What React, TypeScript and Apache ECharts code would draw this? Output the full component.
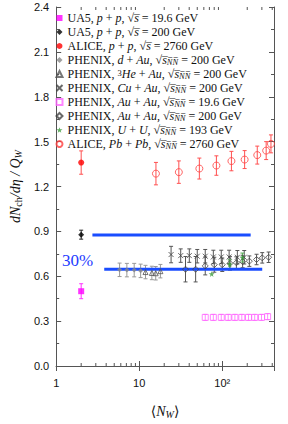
import React, { useEffect, useRef } from "react";
import * as echarts from "echarts";

// ---- data ----
const ua5_19_x = [2];
const ua5_19_y = [0.5];
const ua5_19_e = [0.05];

const ua5_200_x = [2];
const ua5_200_y = [0.878];
const ua5_200_e = [0.03];

const alicePP_x = [2];
const alicePP_y = [1.36];
const alicePP_e = [0.078];

const dAu_x = [5.8, 7.1, 8.7, 10.4];
const dAu_y = [0.643, 0.641, 0.641, 0.636];
const dAu_e = [0.045, 0.045, 0.045, 0.045];

const heAu_x = [11.9, 14.2, 15.8, 18.0];
const heAu_y = [0.628, 0.622, 0.62, 0.634];
const heAu_e = [0.045, 0.045, 0.045, 0.045];

const cuAu_x = [24.2, 31.6, 40.1, 50.0, 62.4, 78.1, 97.3, 121, 152, 184];
const cuAu_y = [0.745, 0.738, 0.738, 0.734, 0.734, 0.729, 0.729, 0.729, 0.727, 0.727];
const cuAu_e = [0.055, 0.045, 0.045, 0.045, 0.045, 0.045, 0.045, 0.045, 0.045, 0.045];

const auAu19_x = [62.4, 78.1, 97.3, 118, 142, 172, 207, 246, 297, 352];
const auAu19_y = [0.325, 0.325, 0.325, 0.325, 0.325, 0.325, 0.325, 0.325, 0.325, 0.33];
const auAu19_e = [0.02, 0.02, 0.02, 0.02, 0.02, 0.02, 0.02, 0.02, 0.02, 0.02];

const auAu200_x = [36.1, 47.8, 62.4, 80.2, 100, 124, 148, 176, 212, 259, 303, 362];
const auAu200_y = [0.647, 0.647, 0.669, 0.677, 0.677, 0.686, 0.69, 0.697, 0.701, 0.712, 0.723, 0.727];
const auAu200_e = [0.085, 0.085, 0.06, 0.05, 0.045, 0.045, 0.04, 0.04, 0.035, 0.035, 0.035, 0.035];

const uu_x = [74.6, 123, 175];
const uu_y = [0.615, 0.68, 0.725];
const uu_e = [0, 0.03, 0.03];

const pbPb_x = [15.9, 30, 53, 85, 129, 186, 264, 338, 386];
const pbPb_y = [1.286, 1.296, 1.32, 1.34, 1.37, 1.38, 1.41, 1.44, 1.485];
const pbPb_e = [0.075, 0.075, 0.07, 0.065, 0.065, 0.06, 0.06, 0.06, 0.06];

const line30a_x = [2.73, 220];
const line30a_y = [0.875, 0.875];
const line30b_x = [3.79, 303];
const line30b_y = [0.647, 0.647];

const xMinorTicks = [2, 3, 4, 5, 6, 7, 8, 9, 20, 30, 40, 50, 60, 70, 80, 90, 200, 300, 400];
const yTickStep = 0.3;

const names = [
  "UA5, p+p, 19.6",
  "UA5, p+p, 200",
  "ALICE, p+p, 2760",
  "PHENIX, d+Au, 200",
  "PHENIX, 3He+Au, 200",
  "PHENIX, Cu+Au, 200",
  "PHENIX, Au+Au, 19.6",
  "PHENIX, Au+Au, 200",
  "PHENIX, U+U, 193",
  "ALICE, Pb+Pb, 2760",
];

const OL = "\u0305";
const sq = `{n|, √}{i|s${OL}}`;
const sqNN = `{n|, √}{i|s${OL}}{sub|N${OL}N${OL}}`;
const legendRich: Record<string, string> = {
  [names[0]]: `{n|UA5, }{i|p}{n| + }{i|p}${sq}{n| = 19.6 GeV}`,
  [names[1]]: `{n|UA5, }{i|p}{n| + }{i|p}${sq}{n| = 200 GeV}`,
  [names[2]]: `{n|ALICE, }{i|p}{n| + }{i|p}${sq}{n| = 2760 GeV}`,
  [names[3]]: `{n|PHENIX, }{i|d}{n| + }{i|Au}${sqNN}{n| = 200 GeV}`,
  [names[4]]: `{n|PHENIX, }{sup|3}{i|He}{n| + }{i|Au}${sqNN}{n| = 200 GeV}`,
  [names[5]]: `{n|PHENIX, }{i|Cu}{n| + }{i|Au}${sqNN}{n| = 200 GeV}`,
  [names[6]]: `{n|PHENIX, }{i|Au}{n| + }{i|Au}${sqNN}{n| = 19.6 GeV}`,
  [names[7]]: `{n|PHENIX, }{i|Au}{n| + }{i|Au}${sqNN}{n| = 200 GeV}`,
  [names[8]]: `{n|PHENIX, }{i|U}{n| + }{i|U}${sqNN}{n| = 193 GeV}`,
  [names[9]]: `{n|ALICE, }{i|Pb}{n| + }{i|Pb}${sqNN}{n| = 2760 GeV}`,
};

const SERIF = "'Liberation Serif', 'DejaVu Serif', serif";
const SANS = "'Liberation Sans', Arial, sans-serif";

const STAR = "path://M50,0 L61,35 L98,35 L68,57 L79,91 L50,70 L21,91 L32,57 L2,35 L39,35 Z";
const CROSS = "path://M0,0 L10,10 M10,0 L0,10";

function errSeries(xs: number[], ys: number[], es: number[], color: string) {
  return {
    type: "custom",
    silent: true,
    z: 1,
    clip: false,
    renderItem: (params: any, api: any) => {
      const x = api.value(0);
      const lo = api.value(1);
      const hi = api.value(2);
      if (hi - lo <= 0) return { type: "group", children: [] };
      const a = api.coord([x, hi]);
      const b = api.coord([x, lo]);
      const st = { stroke: color, lineWidth: 1 };
      return {
        type: "group",
        children: [
          { type: "line", shape: { x1: a[0], y1: a[1], x2: b[0], y2: b[1] }, style: st },
          { type: "line", shape: { x1: a[0] - 2, y1: a[1], x2: a[0] + 2, y2: a[1] }, style: st },
          { type: "line", shape: { x1: b[0] - 2, y1: b[1], x2: b[0] + 2, y2: b[1] }, style: st },
        ],
      };
    },
    encode: { x: 0, y: [1, 2] },
    data: xs.map((x, i) => [x, ys[i] - es[i], ys[i] + es[i]]),
  };
}

function pts(name: string, xs: number[], ys: number[], symbol: string, size: number, itemStyle: any) {
  return {
    type: "scatter",
    name,
    symbol,
    symbolSize: size,
    itemStyle,
    z: 3,
    data: xs.map((x, i) => [x, ys[i]]),
  };
}

export default function App() {
  const ref = useRef<HTMLDivElement>(null);
  useEffect(() => {
    if (!ref.current) return;
    const chart = echarts.init(ref.current, null, { renderer: "svg" });
    const axisColor = "#555";
    const LF = 12;
    const LH = 12;
    const option: any = {
      animation: false,
      grid: { left: 48, right: 14, top: 7, bottom: 46 },
      legend: {
        orient: "vertical",
        left: 54,
        top: 12,
        itemWidth: 6,
        itemHeight: 6,
        itemGap: 2,
        padding: 0,
        data: names,
        formatter: (n: string) => legendRich[n] || n,
        textStyle: {
          fontFamily: SERIF,
          fontSize: LF,
          lineHeight: LH,
          color: "#111",
          rich: {
            n: { fontFamily: SERIF, fontSize: LF, lineHeight: LH, color: "#111" },
            i: { fontFamily: SERIF, fontSize: LF, lineHeight: LH, fontStyle: "italic", color: "#111" },
            sub: { fontFamily: SERIF, fontSize: 8.5, lineHeight: LH, fontStyle: "italic", color: "#111", verticalAlign: "bottom" },
            sup: { fontFamily: SERIF, fontSize: 8.5, lineHeight: LH, color: "#111", verticalAlign: "top" },
          },
        },
      },
      graphic: [
        {
          type: "text",
          left: 62,
          top: 252,
          style: { text: "30%", fontSize: 17, fontFamily: SERIF, fill: "#1e3cff" },
        },
      ],
      xAxis: [
        {
          type: "log",
          logBase: 10,
          min: 1,
          max: 420,
          position: "bottom",
          axisLine: { lineStyle: { color: axisColor } },
          axisTick: { inside: true, length: 5, lineStyle: { color: axisColor } },
          splitLine: { show: false },
          axisLabel: {
            fontFamily: SANS,
            fontSize: 11,
            color: "#111",
            margin: 11,
            showMaxLabel: false,
            formatter: (v: number) => {
              const l = Math.log10(v);
              if (Math.abs(l - Math.round(l)) > 1e-6) return "";
              if (Math.round(l) === 0) return "1";
              if (Math.round(l) === 1) return "10";
              if (Math.round(l) === 2) return "10²";
              return "";
            },
          },
          name: "{n|⟨}{i|N}{sub|W}{n|⟩}",
          nameLocation: "middle",
          nameGap: 37,
          nameTextStyle: {
            rich: {
              n: { fontFamily: SERIF, fontSize: 14, color: "#111" },
              i: { fontFamily: SERIF, fontSize: 14, fontStyle: "italic", color: "#111" },
              sub: { fontFamily: SERIF, fontSize: 10, fontStyle: "italic", color: "#111", verticalAlign: "bottom", padding: [6, 0, 0, 0] },
            },
          },
        },
        {
          type: "log",
          logBase: 10,
          min: 1,
          max: 420,
          position: "top",
          axisLine: { lineStyle: { color: axisColor } },
          axisTick: { inside: true, length: 5, lineStyle: { color: axisColor } },
          axisLabel: { show: false },
          splitLine: { show: false },
        },
      ],
      yAxis: [
        {
          type: "value",
          min: 0,
          max: 2.4,
          interval: yTickStep,
          position: "left",
          axisLine: { show: true, lineStyle: { color: axisColor } },
          axisTick: { show: true, inside: true, length: 5, lineStyle: { color: axisColor } },
          minorTick: { show: true, splitNumber: 2, length: 3, lineStyle: { color: axisColor } },
          splitLine: { show: false },
          axisLabel: {
            fontFamily: SANS,
            fontSize: 11,
            color: "#111",
            margin: 7,
            formatter: (v: number) => v.toFixed(1),
          },
          name: "{i|dN}{sub|ch}{i|/dη / Q}{subi|W}",
          nameLocation: "middle",
          nameGap: 33,
          nameRotate: 90,
          nameTextStyle: {
            rich: {
              i: { fontFamily: SERIF, fontSize: 14, fontStyle: "italic", color: "#111" },
              sub: { fontFamily: SERIF, fontSize: 10, color: "#111", verticalAlign: "bottom", padding: [6, 0, 0, 0] },
              subi: { fontFamily: SERIF, fontSize: 10, fontStyle: "italic", color: "#111", verticalAlign: "bottom", padding: [6, 0, 0, 0] },
            },
          },
        },
        {
          type: "value",
          min: 0,
          max: 2.4,
          interval: yTickStep,
          position: "right",
          axisLine: { show: true, lineStyle: { color: axisColor } },
          axisTick: { show: true, inside: true, length: 5, lineStyle: { color: axisColor } },
          minorTick: { show: true, splitNumber: 2, length: 3, lineStyle: { color: axisColor } },
          splitLine: { show: false },
          axisLabel: { show: false },
        },
      ],
      series: [
        {
          type: "custom",
          silent: true,
          clip: false,
          z: 2,
          renderItem: (params: any, api: any) => {
            const v = api.value(0);
            const b = api.coord([v, 0]);
            const t = api.coord([v, 2.4]);
            const st = { stroke: axisColor, lineWidth: 1 };
            return {
              type: "group",
              children: [
                { type: "line", shape: { x1: b[0], y1: b[1], x2: b[0], y2: b[1] - 3 }, style: st },
                { type: "line", shape: { x1: t[0], y1: t[1], x2: t[0], y2: t[1] + 3 }, style: st },
              ],
            };
          },
          encode: { x: 0, y: 1 },
          data: xMinorTicks.map((v) => [v, 0]),
        },
        {
          type: "line",
          data: line30a_x.map((x, i) => [x, line30a_y[i]]),
          symbol: "none",
          lineStyle: { color: "#1a4dff", width: 3 },
          z: 2,
          silent: true,
        },
        {
          type: "line",
          data: line30b_x.map((x, i) => [x, line30b_y[i]]),
          symbol: "none",
          lineStyle: { color: "#1a4dff", width: 3 },
          z: 2,
          silent: true,
        },
        errSeries(ua5_19_x, ua5_19_y, ua5_19_e, "#ff33ff"),
        errSeries(ua5_200_x, ua5_200_y, ua5_200_e, "#222"),
        errSeries(alicePP_x, alicePP_y, alicePP_e, "#ff5050"),
        errSeries(dAu_x, dAu_y, dAu_e, "#999"),
        errSeries(heAu_x, heAu_y, heAu_e, "#999"),
        errSeries(cuAu_x, cuAu_y, cuAu_e, "#555"),
        errSeries(auAu19_x, auAu19_y, auAu19_e, "#ff88ff"),
        errSeries(auAu200_x, auAu200_y, auAu200_e, "#555"),
        errSeries(uu_x, uu_y, uu_e, "#55aa55"),
        errSeries(pbPb_x, pbPb_y, pbPb_e, "#ff5050"),
        pts(names[0], ua5_19_x, ua5_19_y, "rect", 6, { color: "#ff00ff" }),
        pts(names[1], ua5_200_x, ua5_200_y, "diamond", 6, { color: "#000" }),
        pts(names[2], alicePP_x, alicePP_y, "circle", 6, { color: "#ff0000" }),
        pts(names[3], dAu_x, dAu_y, "diamond", 5, { color: "#888" }),
        pts(names[4], heAu_x, heAu_y, "triangle", 5, { color: "none", borderColor: "#555", borderWidth: 1 }),
        pts(names[5], cuAu_x, cuAu_y, CROSS, 5, { color: "none", borderColor: "#444", borderWidth: 1 }),
        pts(names[6], auAu19_x, auAu19_y, "rect", 6, { color: "none", borderColor: "#ff66ff", borderWidth: 1 }),
        pts(names[7], auAu200_x, auAu200_y, "diamond", 6, { color: "none", borderColor: "#444", borderWidth: 1 }),
        pts(names[8], uu_x, uu_y, STAR, 6, { color: "#3a9a3a" }),
        pts(names[9], pbPb_x, pbPb_y, "circle", 7, { color: "none", borderColor: "#ff4040", borderWidth: 1 }),
      ],
    };
    chart.setOption(option);
    return () => chart.dispose();
  }, []);
  return (
    <div
      ref={ref}
      style={{ position: "absolute", left: 0, top: 0, width: 288, height: 424, background: "#fff" }}
    />
  );
}
